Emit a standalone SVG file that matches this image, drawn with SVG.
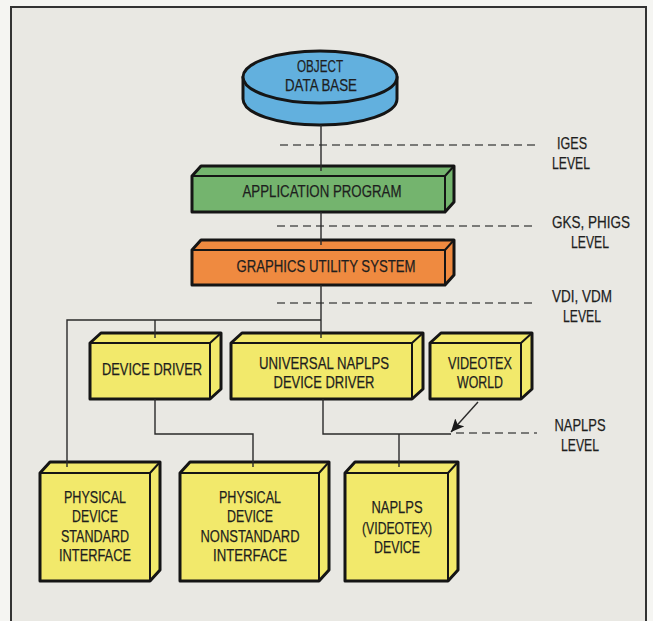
<svg xmlns="http://www.w3.org/2000/svg" width="653" height="621" viewBox="0 0 653 621">
<defs>
<style>
.t{font-family:"Liberation Sans Narrow","Liberation Sans",Arial,sans-serif;font-size:17px;fill:#1e1e1e;text-anchor:middle;stroke:#1e1e1e;stroke-width:0.25}
.box{stroke:#151515;stroke-width:3;stroke-linejoin:round}
.edge{fill:none;stroke:#151515;stroke-width:2;stroke-linejoin:round}
.yel{fill:#f2e96b}
.con{fill:none;stroke:#2a2a2a;stroke-width:1.4}
.dash{fill:none;stroke:#555;stroke-width:1.6;stroke-dasharray:8 5}
</style>
<marker id="ah" markerWidth="14" markerHeight="12" refX="13" refY="6" orient="auto" markerUnits="userSpaceOnUse">
<path d="M0,0 L13,6 L0,12 L3,6 Z" fill="#1a1a1a"/>
</marker>
</defs>
<rect x="0" y="0" width="653" height="621" fill="#f5f5f2"/>
<rect x="11" y="7" width="635" height="640" fill="#e9e8e3" stroke="#333" stroke-width="2"/>

<g id="levels">
<path class="dash" d="M280,145 H537"/>
<path class="dash" d="M277,226 H537"/>
<path class="dash" d="M277,303 H537"/>
<path class="dash" d="M456,433 H537"/>
<text class="t" x="572" y="149" textLength="30" lengthAdjust="spacingAndGlyphs">IGES</text>
<text class="t" x="571" y="169" textLength="38" lengthAdjust="spacingAndGlyphs">LEVEL</text>
<text class="t" x="591" y="228" textLength="78" lengthAdjust="spacingAndGlyphs">GKS, PHIGS</text>
<text class="t" x="590" y="248" textLength="38" lengthAdjust="spacingAndGlyphs">LEVEL</text>
<text class="t" x="582" y="302" textLength="60" lengthAdjust="spacingAndGlyphs">VDI, VDM</text>
<text class="t" x="582" y="322" textLength="38" lengthAdjust="spacingAndGlyphs">LEVEL</text>
<text class="t" x="580" y="431" textLength="51" lengthAdjust="spacingAndGlyphs">NAPLPS</text>
<text class="t" x="580" y="451" textLength="38" lengthAdjust="spacingAndGlyphs">LEVEL</text>
</g>

<g id="object-data-base">
<path d="M243,77 V99 A77,26 0 0 0 397,99 V77 Z" fill="#62b0de" class="box"/>
<ellipse cx="320" cy="77" rx="77" ry="26" fill="#62b0de" class="box"/>
<text class="t" x="320" y="72" textLength="46" lengthAdjust="spacingAndGlyphs">OBJECT</text>
<text class="t" x="321" y="91" textLength="72" lengthAdjust="spacingAndGlyphs">DATA BASE</text>
</g>

<g id="application-program">
<path class="box" fill="#74b46e" d="M192,176 L201,166 L454,166 L454,202 L445,212 L192,212 Z"/>
<path class="edge" d="M192,176 H445 L454,166 M445,176 V212"/>
<text class="t" x="322" y="197" textLength="159" lengthAdjust="spacingAndGlyphs">APPLICATION PROGRAM</text>
</g>

<g id="graphics-utility-system">
<path class="box" fill="#ef8a40" d="M192,250 L201,240 L454,240 L454,275 L445,285 L192,285 Z"/>
<path class="edge" d="M192,250 H445 L454,240 M445,250 V285"/>
<text class="t" x="326" y="272" textLength="179" lengthAdjust="spacingAndGlyphs">GRAPHICS UTILITY SYSTEM</text>
</g>

<g id="device-driver">
<path class="box yel" d="M90,343 L101,333 L221,333 L221,389 L210,399 L90,399 Z"/>
<path class="edge" d="M90,343 H210 L221,333 M210,343 V399"/>
<text class="t" x="152" y="375" textLength="100" lengthAdjust="spacingAndGlyphs">DEVICE DRIVER</text>
</g>

<g id="universal-naplps-device-driver">
<path class="box yel" d="M231,343 L242,333 L423,333 L423,389 L412,399 L231,399 Z"/>
<path class="edge" d="M231,343 H412 L423,333 M412,343 V399"/>
<text class="t" x="324" y="369" textLength="130" lengthAdjust="spacingAndGlyphs">UNIVERSAL NAPLPS</text>
<text class="t" x="324" y="388" textLength="101" lengthAdjust="spacingAndGlyphs">DEVICE DRIVER</text>
</g>

<g id="videotex-world">
<path class="box yel" d="M430,343 L441,333 L532,333 L532,389 L521,399 L430,399 Z"/>
<path class="edge" d="M430,343 H521 L532,333 M521,343 V399"/>
<text class="t" x="480" y="369" textLength="64" lengthAdjust="spacingAndGlyphs">VIDEOTEX</text>
<text class="t" x="480" y="388" textLength="46" lengthAdjust="spacingAndGlyphs">WORLD</text>
</g>

<g id="physical-device-standard-interface">
<path class="box yel" d="M40,473 L50,462 L160,462 L160,570 L150,581 L40,581 Z"/>
<path class="edge" d="M40,473 H150 L160,462 M150,473 V581"/>
<text class="t" x="95" y="503" textLength="62" lengthAdjust="spacingAndGlyphs">PHYSICAL</text>
<text class="t" x="95" y="522" textLength="46" lengthAdjust="spacingAndGlyphs">DEVICE</text>
<text class="t" x="95" y="542" textLength="68" lengthAdjust="spacingAndGlyphs">STANDARD</text>
<text class="t" x="95" y="561" textLength="72" lengthAdjust="spacingAndGlyphs">INTERFACE</text>
</g>

<g id="physical-device-nonstandard-interface">
<path class="box yel" d="M180,473 L190,462 L329,462 L329,570 L319,581 L180,581 Z"/>
<path class="edge" d="M180,473 H319 L329,462 M319,473 V581"/>
<text class="t" x="250" y="503" textLength="62" lengthAdjust="spacingAndGlyphs">PHYSICAL</text>
<text class="t" x="250" y="522" textLength="46" lengthAdjust="spacingAndGlyphs">DEVICE</text>
<text class="t" x="250" y="542" textLength="99" lengthAdjust="spacingAndGlyphs">NONSTANDARD</text>
<text class="t" x="250" y="561" textLength="74" lengthAdjust="spacingAndGlyphs">INTERFACE</text>
</g>

<g id="naplps-videotex-device">
<path class="box yel" d="M345,473 L355,462 L458,462 L458,570 L448,581 L345,581 Z"/>
<path class="edge" d="M345,473 H448 L458,462 M448,473 V581"/>
<text class="t" x="397" y="513" textLength="51" lengthAdjust="spacingAndGlyphs">NAPLPS</text>
<text class="t" x="397" y="534" textLength="70" lengthAdjust="spacingAndGlyphs">(VIDEOTEX)</text>
<text class="t" x="397" y="553" textLength="46" lengthAdjust="spacingAndGlyphs">DEVICE</text>
</g>

<g id="connectors">
<path class="con" d="M321,125 V171"/>
<path class="con" d="M321,212 V245"/>
<path class="con" d="M321,285 V338"/>
<path class="con" d="M67,467 V320 H321"/>
<path class="con" d="M155,320 V338"/>
<path class="con" d="M155,399 V434 H253 V467"/>
<path class="con" d="M323,399 V434 H451"/>
<path class="con" d="M399,434 V467"/>
<path class="con" d="M478,402 L451,432" marker-end="url(#ah)"/>
</g>
</svg>
